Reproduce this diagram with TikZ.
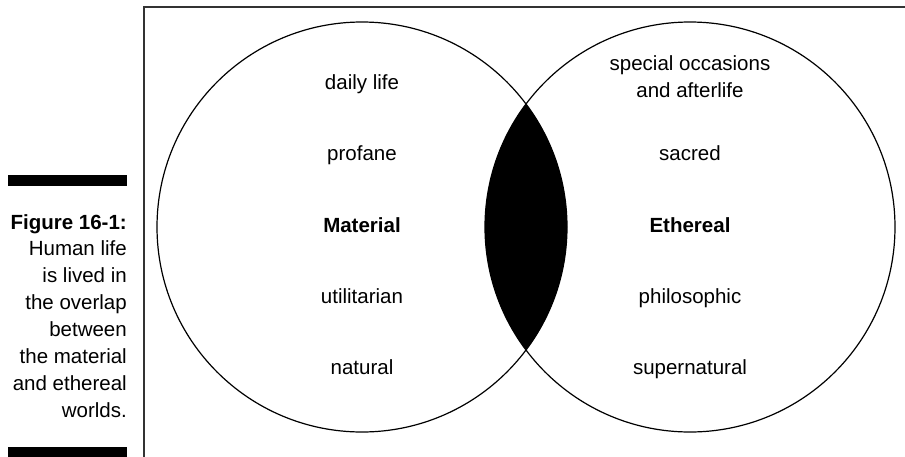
\documentclass[tikz,border=0pt]{standalone}
\usepackage{fontspec}
\setmainfont{Liberation Sans}
\begin{document}
\begin{tikzpicture}[x=1pt,y=-1pt,
  ring/.style={circle,draw=black,line width=1.2pt,minimum size=410pt,inner sep=0pt},
  lbl/.style={anchor=base,inner sep=0pt,font=\fontsize{20.5}{27.5}\selectfont,align=center},
  bold/.style={lbl,font=\fontsize{20.5}{27.5}\selectfont\bfseries},
  bar/.style={fill=black}]
\useasboundingbox (0,0) rectangle (905,456);
% frame
\coordinate (fb) at (144,470);
\coordinate (fc) at (144,7);
\coordinate (fr) at (920,7);
\draw[line width=1.4pt,black!80] (fb) -- (fc) -- (fr);
% circles
\node[ring] (L) at (362,227) {};
\node[ring] (R) at (690,227) {};
\begin{scope}
  \clip (L.center) circle[radius=205pt];
  \fill[black] (R.center) circle[radius=205pt];
\end{scope}
% left texts
\node[lbl] (l1) at (362,89.5) {daily life};
\node[lbl] (l2) at (362,160) {profane};
\node[bold] (l3) at (362,232) {Material};
\node[lbl] (l4) at (362,303) {utilitarian};
\node[lbl] (l5) at (362,374) {natural};
% right texts
\node[lbl] (r1a) at (690,70) {special occasions};
\node[lbl] (r1b) at (690,97.5) {and afterlife};
\node[lbl] (r2) at (690,160) {sacred};
\node[bold] (r3) at (690,232) {Ethereal};
\node[lbl] (r4) at (690,303) {philosophic};
\node[lbl] (r5) at (690,374) {supernatural};
% caption
\fill[bar] (8,175) rectangle (127,186);
\fill[bar] (8,447) rectangle (127,460);
\node[anchor=north east,inner sep=0pt,align=right,font=\fontsize{20.5}{26.9}\selectfont] (cap) at (127,214)
  {\textbf{Figure 16-1:}\\Human life\\is lived in\\the overlap\\between\\the material\\and ethereal\\worlds.};
\end{tikzpicture}
\end{document}
